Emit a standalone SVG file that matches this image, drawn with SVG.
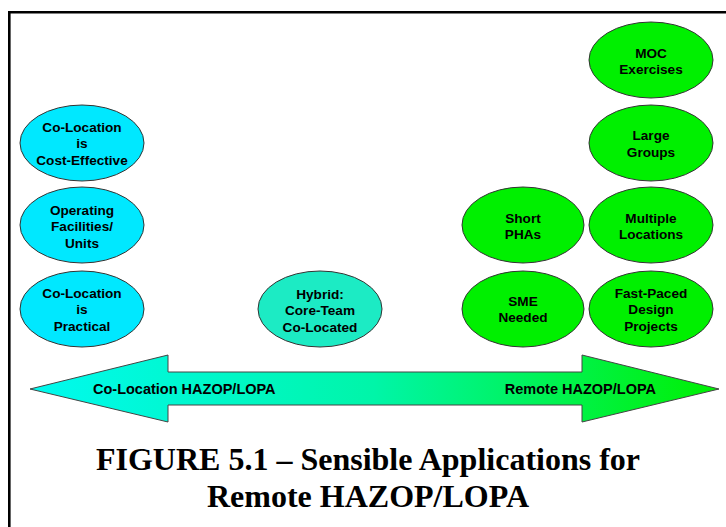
<svg xmlns="http://www.w3.org/2000/svg" width="726" height="527" viewBox="0 0 726 527">
<style>
.frame{fill:none;stroke:#000;stroke-width:2.6}
.cyan{fill:#00E8FF;stroke:#333;stroke-width:1}
.teal{fill:#1CEBC4;stroke:#333;stroke-width:1}
.green{fill:#00F000;stroke:#333;stroke-width:1}
.nt{font-family:"Liberation Sans",Arial,sans-serif;font-weight:bold;font-size:13.6px;fill:#000;text-anchor:middle}
.at{font-family:"Liberation Sans",Arial,sans-serif;font-weight:bold;font-size:14.5px;fill:#000}
.title{font-family:"Liberation Serif","Times New Roman",serif;font-weight:bold;font-size:32px;fill:#000;text-anchor:middle}
</style>
<defs>
<linearGradient id="ag" x1="30" y1="0" x2="719" y2="0" gradientUnits="userSpaceOnUse">
<stop offset="0" stop-color="#00FAF0"/>
<stop offset="0.5" stop-color="#00F5A8"/>
<stop offset="1" stop-color="#00F000"/>
</linearGradient>
</defs>
<rect width="726" height="527" fill="#fff"/>
<path class="frame" d="M9.3,527 V12.3 H726"/>

<g id="connectors">
<g id="arrow">
<path d="M30,389 L168,355 L168,372 L582,372 L582,355 L719,389 L582,422 L582,405 L168,405 L168,422 Z" fill="url(#ag)" stroke="#444" stroke-width="1"/>
<text class="at" x="93" y="394">Co-Location HAZOP/LOPA</text>
<text class="at" x="656" y="394" text-anchor="end">Remote HAZOP/LOPA</text>
</g>
</g>

<g id="n-cost-effective">
<ellipse class="cyan" cx="82" cy="143" rx="62" ry="38"/>
<text class="nt" x="82" y="131.5">Co-Location</text>
<text class="nt" x="82" y="148">is</text>
<text class="nt" x="82" y="164.5">Cost-Effective</text>
</g>
<g id="n-operating">
<ellipse class="cyan" cx="82" cy="225" rx="62" ry="38"/>
<text class="nt" x="82" y="214.5">Operating</text>
<text class="nt" x="82" y="231">Facilities/</text>
<text class="nt" x="82" y="247.5">Units</text>
</g>
<g id="n-practical">
<ellipse class="cyan" cx="82" cy="309" rx="62" ry="38"/>
<text class="nt" x="82" y="297.5">Co-Location</text>
<text class="nt" x="82" y="314">is</text>
<text class="nt" x="82" y="330.5">Practical</text>
</g>
<g id="n-hybrid">
<ellipse class="teal" cx="320" cy="309" rx="62" ry="38"/>
<text class="nt" x="320" y="298.5">Hybrid:</text>
<text class="nt" x="320" y="315">Core-Team</text>
<text class="nt" x="320" y="331.5">Co-Located</text>
</g>
<g id="n-short">
<ellipse class="green" cx="523" cy="225" rx="61" ry="38"/>
<text class="nt" x="523" y="222.5">Short</text>
<text class="nt" x="523" y="239">PHAs</text>
</g>
<g id="n-sme">
<ellipse class="green" cx="523" cy="309" rx="61" ry="38"/>
<text class="nt" x="523" y="305.5">SME</text>
<text class="nt" x="523" y="322">Needed</text>
</g>
<g id="n-moc">
<ellipse class="green" cx="651" cy="60" rx="62" ry="38"/>
<text class="nt" x="651" y="57.5">MOC</text>
<text class="nt" x="651" y="74">Exercises</text>
</g>
<g id="n-large">
<ellipse class="green" cx="651" cy="143" rx="62" ry="38"/>
<text class="nt" x="651" y="140">Large</text>
<text class="nt" x="651" y="156.5">Groups</text>
</g>
<g id="n-multiple">
<ellipse class="green" cx="651" cy="225" rx="62" ry="38"/>
<text class="nt" x="651" y="222.5">Multiple</text>
<text class="nt" x="651" y="239">Locations</text>
</g>
<g id="n-fast">
<ellipse class="green" cx="651" cy="309" rx="62" ry="38"/>
<text class="nt" x="651" y="297.5">Fast-Paced</text>
<text class="nt" x="651" y="314">Design</text>
<text class="nt" x="651" y="330.5">Projects</text>
</g>

<g id="caption">
<text class="title" x="368" y="470">FIGURE 5.1 – Sensible Applications for</text>
<text class="title" x="368" y="507">Remote HAZOP/LOPA</text>
</g>
</svg>
